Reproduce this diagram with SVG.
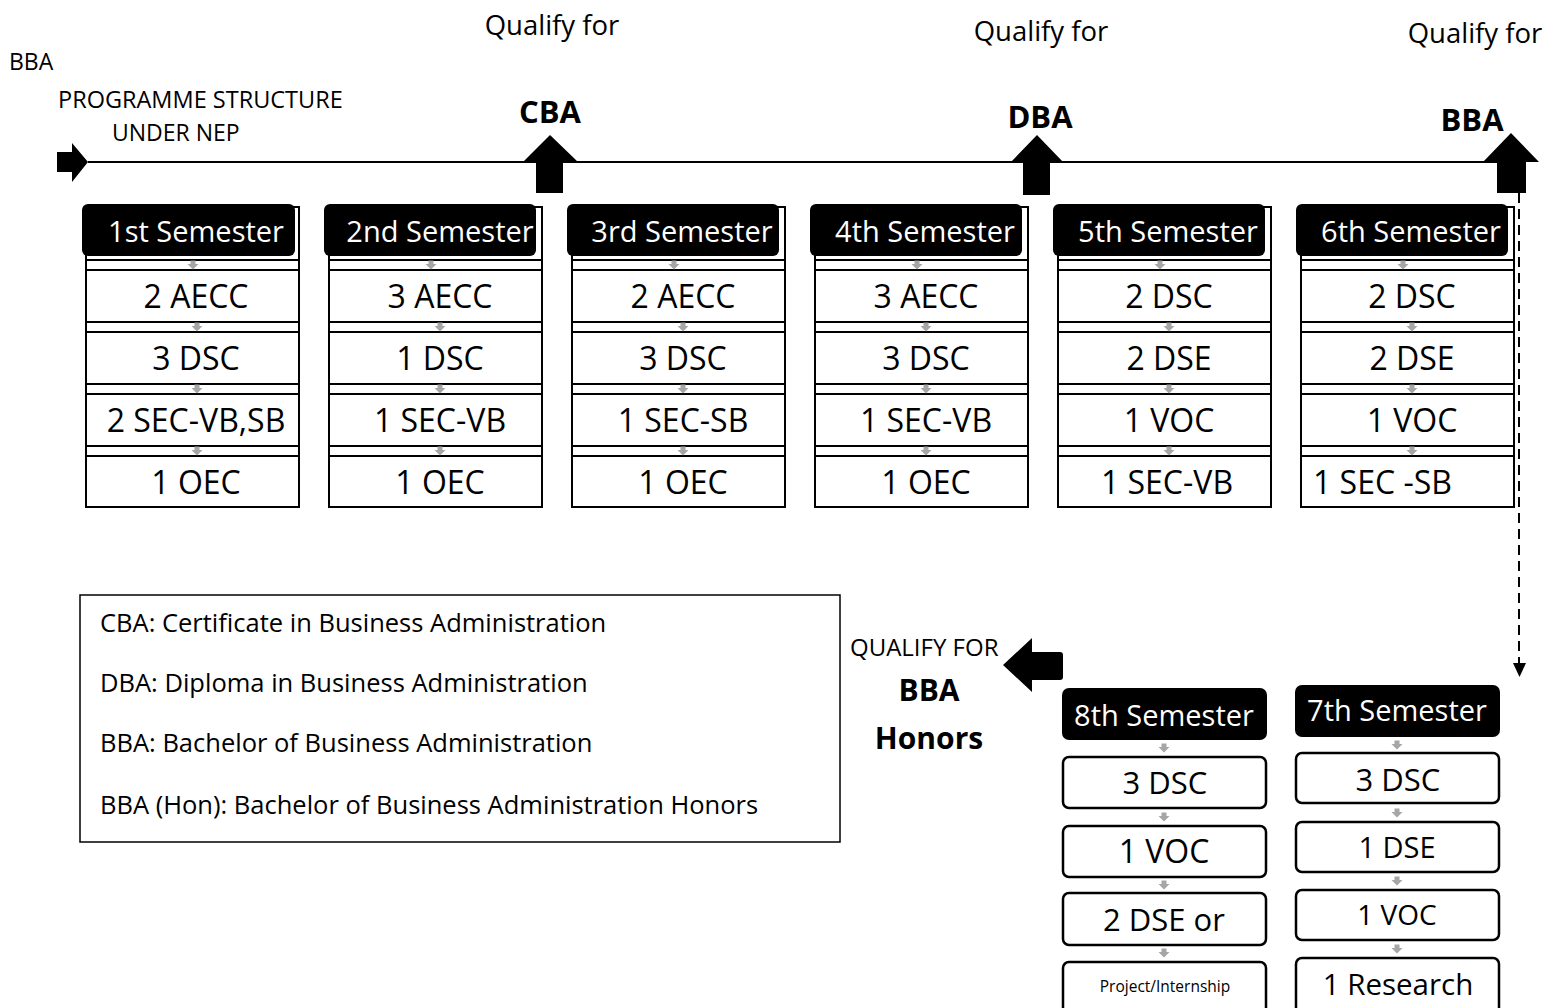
<svg xmlns="http://www.w3.org/2000/svg" xmlns:xlink="http://www.w3.org/1999/xlink" width="1547" height="1008" viewBox="0 0 1547 1008">
<style>
text{font-family:"Open Sans","Liberation Sans",sans-serif;fill:#000}
.outer{fill:#fff;stroke:#000;stroke-width:2}
.hdr{fill:#000}
.htxt{fill:#fff;font-size:29px;text-anchor:middle}
.row{fill:#fff;stroke:#000;stroke-width:2}
.rbox{fill:#fff;stroke:#000;stroke-width:2.5}
.rtxt{font-size:32px;text-anchor:middle}
.ga{fill:#a6a6a6}
.blk{fill:#000}
.lbl{font-size:23px}
.bold{font-weight:bold;text-anchor:middle}
.leg{font-size:25.5px}
</style>
<defs>
<path id="ga" class="ga" d="M-2.5,-4.5 h5 v3.5 h3 l-5.5,5.5 l-5.5,-5.5 h3 z"/>
</defs>

<g id="connectors">
<line x1="88" y1="162" x2="1512" y2="162" stroke="#000" stroke-width="2"/>
<path class="blk" d="M57,152 H72 V143 L88,162 L72,182 V172 H57 Z"/>
<path class="blk" d="M550,135 L578,162 H563 V193 H536 V162 H523 Z"/>
<path class="blk" d="M1037,135 L1064,163 H1050 V195 H1023 V163 H1010 Z"/>
<path class="blk" d="M1511,133 L1539,162 H1526 V193 H1497 V162 H1483 Z"/>
<line x1="1519" y1="193" x2="1519" y2="664" stroke="#000" stroke-width="2" stroke-dasharray="10,6"/>
<path class="blk" d="M1513,663 H1526 L1519.5,677 Z"/>
<path class="blk" d="M1003,665 L1032,638 V652 H1060 Q1063,652 1063,655 V677 Q1063,680 1060,680 H1032 V692 Z"/>
</g>

<g id="title">
<text class="lbl" x="9" y="70" font-size="22">BBA</text>
<text class="lbl" x="58" y="108" style="font-size:23.5px">PROGRAMME STRUCTURE</text>
<text class="lbl" x="112" y="141">UNDER NEP</text>
</g>

<g id="qual-cba">
<text x="552" y="35" font-size="27.5" text-anchor="middle">Qualify for</text>
<text class="bold" x="550" y="123" font-size="31">CBA</text>
</g>
<g id="qual-dba">
<text x="1041" y="41" font-size="27.5" text-anchor="middle">Qualify for</text>
<text class="bold" x="1040" y="128" font-size="31">DBA</text>
</g>
<g id="qual-bba">
<text x="1475" y="43" font-size="27.5" text-anchor="middle">Qualify for</text>
<text class="bold" x="1472" y="131" font-size="31">BBA</text>
</g>

<g id="sem1">
<rect class="outer" x="86" y="207" width="213" height="300"/>
<rect class="hdr" x="82" y="204" width="213" height="52" rx="6"/>
<text class="htxt" x="196" y="242">1st Semester</text>
<line x1="86" y1="260" x2="299" y2="260" stroke="#000" stroke-width="2"/>
<rect class="row" x="86" y="270" width="213" height="52"/>
<rect class="row" x="86" y="332" width="213" height="52"/>
<rect class="row" x="86" y="394" width="213" height="52"/>
<rect class="row" x="86" y="456" width="213" height="51"/>
<use href="#ga" x="193" y="265"/><use href="#ga" x="197" y="327"/><use href="#ga" x="197" y="389"/><use href="#ga" x="197" y="451"/>
<text class="rtxt" x="196" y="308">2 AECC</text>
<text class="rtxt" x="196" y="370">3 DSC</text>
<text class="rtxt" x="196" y="432">2 SEC-VB,SB</text>
<text class="rtxt" x="196" y="494">1 OEC</text>
</g>

<g id="sem2">
<rect class="outer" x="329" y="207" width="213" height="300"/>
<rect class="hdr" x="324" y="204" width="212" height="52" rx="6"/>
<text class="htxt" x="440" y="242">2nd Semester</text>
<line x1="329" y1="260" x2="542" y2="260" stroke="#000" stroke-width="2"/>
<rect class="row" x="329" y="270" width="213" height="52"/>
<rect class="row" x="329" y="332" width="213" height="52"/>
<rect class="row" x="329" y="394" width="213" height="52"/>
<rect class="row" x="329" y="456" width="213" height="51"/>
<use href="#ga" x="431" y="265"/><use href="#ga" x="440" y="327"/><use href="#ga" x="440" y="389"/><use href="#ga" x="440" y="451"/>
<text class="rtxt" x="440" y="308">3 AECC</text>
<text class="rtxt" x="440" y="370">1 DSC</text>
<text class="rtxt" x="440" y="432">1 SEC-VB</text>
<text class="rtxt" x="440" y="494">1 OEC</text>
</g>

<g id="sem3">
<rect class="outer" x="572" y="207" width="213" height="300"/>
<rect class="hdr" x="567" y="204" width="212" height="52" rx="6"/>
<text class="htxt" x="682" y="242">3rd Semester</text>
<line x1="572" y1="260" x2="785" y2="260" stroke="#000" stroke-width="2"/>
<rect class="row" x="572" y="270" width="213" height="52"/>
<rect class="row" x="572" y="332" width="213" height="52"/>
<rect class="row" x="572" y="394" width="213" height="52"/>
<rect class="row" x="572" y="456" width="213" height="51"/>
<use href="#ga" x="674" y="265"/><use href="#ga" x="683" y="327"/><use href="#ga" x="683" y="389"/><use href="#ga" x="683" y="451"/>
<text class="rtxt" x="683" y="308">2 AECC</text>
<text class="rtxt" x="683" y="370">3 DSC</text>
<text class="rtxt" x="683" y="432">1 SEC-SB</text>
<text class="rtxt" x="683" y="494">1 OEC</text>
</g>

<g id="sem4">
<rect class="outer" x="815" y="207" width="213" height="300"/>
<rect class="hdr" x="810" y="204" width="212" height="52" rx="6"/>
<text class="htxt" x="925" y="242">4th Semester</text>
<line x1="815" y1="260" x2="1028" y2="260" stroke="#000" stroke-width="2"/>
<rect class="row" x="815" y="270" width="213" height="52"/>
<rect class="row" x="815" y="332" width="213" height="52"/>
<rect class="row" x="815" y="394" width="213" height="52"/>
<rect class="row" x="815" y="456" width="213" height="51"/>
<use href="#ga" x="917" y="265"/><use href="#ga" x="926" y="327"/><use href="#ga" x="926" y="389"/><use href="#ga" x="926" y="451"/>
<text class="rtxt" x="926" y="308">3 AECC</text>
<text class="rtxt" x="926" y="370">3 DSC</text>
<text class="rtxt" x="926" y="432">1 SEC-VB</text>
<text class="rtxt" x="926" y="494">1 OEC</text>
</g>

<g id="sem5">
<rect class="outer" x="1058" y="207" width="213" height="300"/>
<rect class="hdr" x="1053" y="204" width="212" height="52" rx="6"/>
<text class="htxt" x="1168" y="242">5th Semester</text>
<line x1="1058" y1="260" x2="1271" y2="260" stroke="#000" stroke-width="2"/>
<rect class="row" x="1058" y="270" width="213" height="52"/>
<rect class="row" x="1058" y="332" width="213" height="52"/>
<rect class="row" x="1058" y="394" width="213" height="52"/>
<rect class="row" x="1058" y="456" width="213" height="51"/>
<use href="#ga" x="1160" y="265"/><use href="#ga" x="1169" y="327"/><use href="#ga" x="1169" y="389"/><use href="#ga" x="1169" y="451"/>
<text class="rtxt" x="1169" y="308">2 DSC</text>
<text class="rtxt" x="1169" y="370">2 DSE</text>
<text class="rtxt" x="1169" y="432">1 VOC</text>
<text class="rtxt" x="1167" y="494">1 SEC-VB</text>
</g>

<g id="sem6">
<rect class="outer" x="1301" y="207" width="213" height="300"/>
<rect class="hdr" x="1296" y="204" width="212" height="52" rx="6"/>
<text class="htxt" x="1411" y="242">6th Semester</text>
<line x1="1301" y1="260" x2="1514" y2="260" stroke="#000" stroke-width="2"/>
<rect class="row" x="1301" y="270" width="213" height="52"/>
<rect class="row" x="1301" y="332" width="213" height="52"/>
<rect class="row" x="1301" y="394" width="213" height="52"/>
<rect class="row" x="1301" y="456" width="213" height="51"/>
<use href="#ga" x="1403" y="265"/><use href="#ga" x="1412" y="327"/><use href="#ga" x="1412" y="389"/><use href="#ga" x="1412" y="451"/>
<text class="rtxt" x="1412" y="308">2 DSC</text>
<text class="rtxt" x="1412" y="370">2 DSE</text>
<text class="rtxt" x="1412" y="432">1 VOC</text>
<text class="rtxt" x="1313" y="494" style="text-anchor:start">1 SEC -SB</text>
</g>

<g id="legend">
<rect x="80" y="595" width="760" height="247" fill="#fff" stroke="#000" stroke-width="1.5"/>
<text class="leg" x="100" y="632">CBA: Certificate in Business Administration</text>
<text class="leg" x="100" y="692">DBA: Diploma in Business Administration</text>
<text class="leg" x="100" y="752">BBA: Bachelor of Business Administration</text>
<text class="leg" x="100" y="814">BBA (Hon): Bachelor of Business Administration Honors</text>
</g>

<g id="qual-honors">
<text x="850" y="656" font-size="24">QUALIFY FOR</text>
<text class="bold" x="929" y="701" font-size="30">BBA</text>
<text class="bold" x="929" y="749" font-size="30">Honors</text>
</g>

<g id="sem8">
<rect class="hdr" x="1062" y="688" width="205" height="52" rx="7"/>
<text class="htxt" x="1164" y="726">8th Semester</text>
<rect class="rbox" x="1063" y="757" width="203" height="51" rx="6"/>
<rect class="rbox" x="1063" y="826" width="203" height="51" rx="6"/>
<rect class="rbox" x="1063" y="893" width="203" height="52" rx="6"/>
<rect class="rbox" x="1063" y="962" width="203" height="52" rx="6"/>
<use href="#ga" x="1164" y="748"/><use href="#ga" x="1164" y="817"/><use href="#ga" x="1164" y="885"/><use href="#ga" x="1164" y="953"/>
<text class="rtxt" x="1165" y="794" style="font-size:31px">3 DSC</text>
<text class="rtxt" x="1164" y="863">1 VOC</text>
<text class="rtxt" x="1164" y="931" style="font-size:31px">2 DSE or</text>
<text x="1165" y="992" font-size="15.5" text-anchor="middle">Project/Internship</text>
</g>

<g id="sem7">
<rect class="hdr" x="1295" y="685" width="205" height="52" rx="7"/>
<text class="htxt" x="1397" y="721">7th Semester</text>
<rect class="rbox" x="1296" y="753" width="203" height="50" rx="6"/>
<rect class="rbox" x="1296" y="822" width="203" height="50" rx="6"/>
<rect class="rbox" x="1296" y="890" width="203" height="50" rx="6"/>
<rect class="rbox" x="1296" y="958" width="203" height="56" rx="6"/>
<use href="#ga" x="1397" y="745"/><use href="#ga" x="1397" y="813"/><use href="#ga" x="1397" y="881"/><use href="#ga" x="1397" y="949"/>
<text class="rtxt" x="1398" y="791" style="font-size:31px">3 DSC</text>
<text class="rtxt" x="1397" y="858" style="font-size:29px">1 DSE</text>
<text class="rtxt" x="1397" y="925" style="font-size:28px">1 VOC</text>
<text class="rtxt" x="1398" y="995" style="font-size:29.5px">1 Research</text>
</g>
</svg>
